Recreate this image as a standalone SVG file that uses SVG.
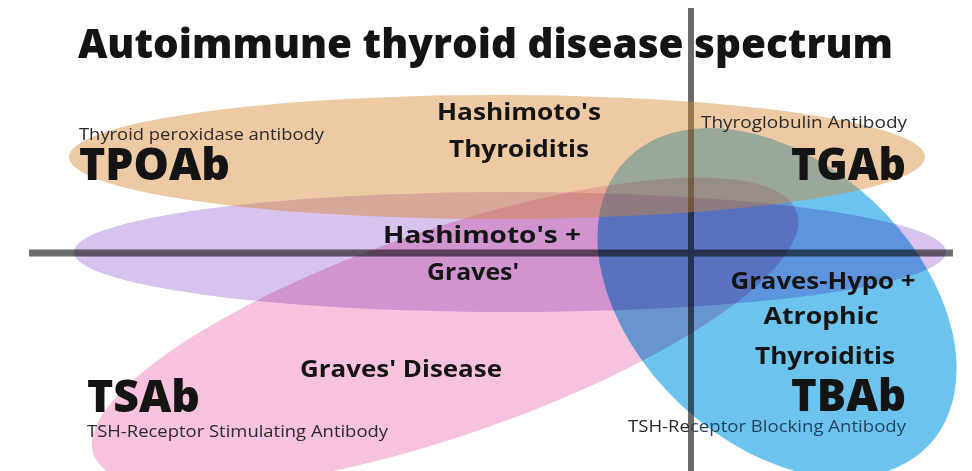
<svg xmlns="http://www.w3.org/2000/svg" width="972" height="471" viewBox="0 0 972 471">
  <style>
    text { font-family: "Open Sans", "Liberation Sans", sans-serif; fill: #141414; }
    .title { font-size: 41px; font-weight: 800; }
    .abbr { font-size: 45px; font-weight: 800; }
    .dis { font-size: 24px; font-weight: 700; text-anchor: middle; }
    .sub { font-size: 16.5px; font-weight: 400; fill: #2a2a2a; }
    .axis { stroke: #6b6b6b; fill: none; }
    .mul { mix-blend-mode: multiply; }
  </style>
  <rect x="0" y="0" width="972" height="471" fill="#ffffff"/>

  <g id="connectors">
    <line class="axis" x1="691" y1="8" x2="691" y2="471" stroke-width="6"/>
    <line class="axis" x1="29" y1="253" x2="953" y2="253" stroke-width="7"/>
  </g>

  <g id="tsab-region">
    <ellipse class="mul" cx="0" cy="0" rx="372" ry="103" fill="#f7c2dd" transform="translate(445 333) rotate(-19)"/>
  </g>
  <g id="overlap-region">
    <ellipse class="mul" cx="510" cy="252" rx="436" ry="60" fill="#d8c2ee"/>
  </g>
  <g id="tbab-region">
    <ellipse class="mul" cx="0" cy="0" rx="208" ry="140" fill="#6cc4ee" transform="translate(777 303) rotate(43)"/>
  </g>
  <g id="tpoab-region">
    <ellipse cx="497" cy="157" rx="428" ry="62" fill="#d6832f" fill-opacity="0.44"/>
  </g>

  <g id="title">
    <text class="title" x="78" y="58" textLength="815" lengthAdjust="spacingAndGlyphs">Autoimmune thyroid disease spectrum</text>
  </g>

  <g id="tpoab">
    <text class="sub" x="79" y="140" textLength="245" lengthAdjust="spacingAndGlyphs">Thyroid peroxidase antibody</text>
    <text class="abbr" x="79" y="180" textLength="151" lengthAdjust="spacingAndGlyphs">TPOAb</text>
  </g>
  <g id="hashimoto">
    <text class="dis" x="519" y="120" textLength="164" lengthAdjust="spacingAndGlyphs">Hashimoto's</text>
    <text class="dis" x="519" y="157" textLength="140" lengthAdjust="spacingAndGlyphs">Thyroiditis</text>
  </g>
  <g id="tgab">
    <text class="sub" x="701" y="128" textLength="206" lengthAdjust="spacingAndGlyphs">Thyroglobulin Antibody</text>
    <text class="abbr" x="791" y="180" textLength="115" lengthAdjust="spacingAndGlyphs">TGAb</text>
  </g>
  <g id="hashimoto-graves">
    <text class="dis" x="482" y="243" textLength="198" lengthAdjust="spacingAndGlyphs">Hashimoto's +</text>
    <text class="dis" x="473" y="280" textLength="92" lengthAdjust="spacingAndGlyphs">Graves'</text>
  </g>
  <g id="graves">
    <text class="dis" x="401" y="377" textLength="202" lengthAdjust="spacingAndGlyphs">Graves' Disease</text>
  </g>
  <g id="tsab">
    <text class="abbr" x="87" y="412" textLength="113" lengthAdjust="spacingAndGlyphs">TSAb</text>
    <text class="sub" x="87" y="437" textLength="301" lengthAdjust="spacingAndGlyphs">TSH-Receptor Stimulating Antibody</text>
  </g>
  <g id="graves-hypo">
    <text class="dis" x="823" y="289" textLength="185" lengthAdjust="spacingAndGlyphs">Graves-Hypo +</text>
    <text class="dis" x="821" y="324" textLength="115" lengthAdjust="spacingAndGlyphs">Atrophic</text>
    <text class="dis" x="825" y="364" textLength="140" lengthAdjust="spacingAndGlyphs">Thyroiditis</text>
  </g>
  <g id="tbab">
    <text class="abbr" x="791" y="411" textLength="115" lengthAdjust="spacingAndGlyphs">TBAb</text>
    <text class="sub" x="628" y="432" textLength="278" lengthAdjust="spacingAndGlyphs">TSH-Re<tspan fill="#1f3f5c">ceptor Blocking Antibody</tspan></text>
  </g>
</svg>
